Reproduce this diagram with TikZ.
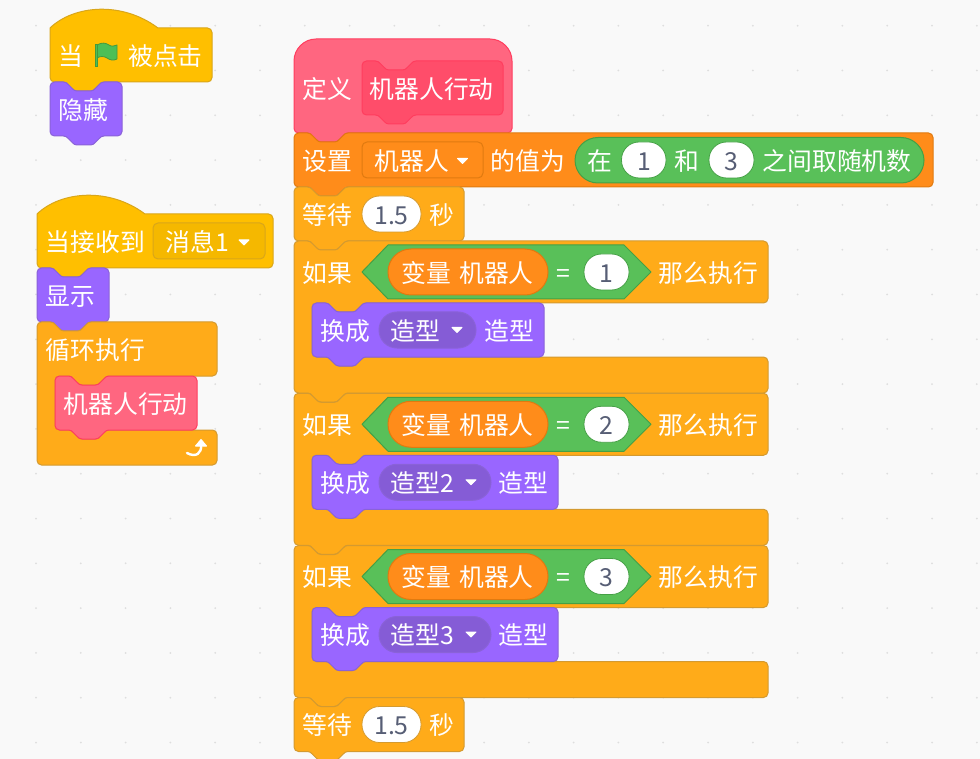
\documentclass[tikz,border=0pt]{standalone}
\usepackage{fontspec}
\newfontfamily\cjk{Noto Sans CJK SC}
\definecolor{bgc}{HTML}{F9F9F9}
\definecolor{dotc}{HTML}{DEDEDE}
\definecolor{evf}{HTML}{FFBF00}\definecolor{evs}{HTML}{D9A61A}\definecolor{evd}{HTML}{F5B800}
\definecolor{ctf}{HTML}{FFAB19}\definecolor{cts}{HTML}{D49A30}
\definecolor{lkf}{HTML}{9966FF}\definecolor{lks}{HTML}{8A62D8}\definecolor{lkd}{HTML}{855CD6}
\definecolor{myf}{HTML}{FF6680}\definecolor{mys}{HTML}{FF3D5E}\definecolor{myd}{HTML}{FF4D6A}
\definecolor{vrf}{HTML}{FF8C1A}\definecolor{vrs}{HTML}{E07A10}
\definecolor{opf}{HTML}{59C059}\definecolor{ops}{HTML}{45A045}
\definecolor{numc}{HTML}{575E75}
\definecolor{flagf}{HTML}{4CBF56}\definecolor{flags}{HTML}{45993D}
\tikzset{
  lbl/.style={anchor=base west,inner sep=0pt,text=white,font=\cjk\fontsize{24.8}{25}\selectfont},
  numlbl/.style={anchor=base,inner sep=0pt,text=numc,font=\cjk\fontsize{24.8}{25}\selectfont},
  evblk/.style={fill=evf,draw=evs,line width=1pt},
  ctblk/.style={fill=ctf,draw=cts,line width=1pt},
  lkblk/.style={fill=lkf,draw=lks,line width=1pt},
  myblk/.style={fill=myf,draw=mys,line width=1pt},
  vrblk/.style={fill=vrf,draw=vrs,line width=1pt},
  oprep/.style={fill=opf,draw=ops,line width=1pt},
  numoval/.style={fill=white,draw=ops,line width=.8pt,rounded corners=17.5pt},
  caretm/.style={fill=white,draw=white,line width=1pt,line join=round},
}
% notch, left to right, x offset #1, y #2
\newcommand\notchlr[2]{.. controls (#1+15.75,#2) and (#1+16.875,#2+1.125) .. (#1+18,#2+2.25) -- (#1+22.5,#2+6.75) .. controls (#1+23.625,#2+7.875) and (#1+24.75,#2+9) .. (#1+27,#2+9) -- (#1+40.5,#2+9) .. controls (#1+42.75,#2+9) and (#1+43.875,#2+7.875) .. (#1+45,#2+6.75) -- (#1+49.5,#2+2.25) .. controls (#1+50.625,#2+1.125) and (#1+51.75,#2) .. (#1+54,#2)}
\newcommand\notchrl[2]{.. controls (#1+51.75,#2) and (#1+50.625,#2+1.125) .. (#1+49.5,#2+2.25) -- (#1+45,#2+6.75) .. controls (#1+43.875,#2+7.875) and (#1+42.75,#2+9) .. (#1+40.5,#2+9) -- (#1+27,#2+9) .. controls (#1+24.75,#2+9) and (#1+23.625,#2+7.875) .. (#1+22.5,#2+6.75) -- (#1+18,#2+2.25) .. controls (#1+16.875,#2+1.125) and (#1+15.75,#2) .. (#1+13.5,#2)}
% corners
\newcommand\cTL[2]{(#1,#2+4.5) .. controls (#1,#2+2) and (#1+2,#2) .. (#1+4.5,#2)}
\newcommand\cTR[2]{-- (#1-4.5,#2) .. controls (#1-2,#2) and (#1,#2+2) .. (#1,#2+4.5)}
\newcommand\cBR[2]{-- (#1,#2-4.5) .. controls (#1,#2-2) and (#1-2,#2) .. (#1-4.5,#2)}
\newcommand\cBL[2]{-- (#1+4.5,#2) .. controls (#1+2,#2) and (#1,#2-2) .. (#1,#2-4.5)}
% right side and bottom with notch, ending closed at left
\newcommand\lowerpart[4]{\cTR{#3}{#2} \cBR{#3}{#4} -- (#1+54,#4) \notchrl{#1}{#4} \cBL{#1}{#4} -- cycle}
\newcommand\lowerflat[4]{\cTR{#3}{#2} \cBR{#3}{#4} \cBL{#1}{#4} -- cycle}
% stack block: style, x0,y0,x1,y1
\newcommand\stackblk[5]{\path[#1] \cTL{#2}{#3} -- (#2+13.5,#3) \notchlr{#2}{#3} \lowerpart{#2}{#3}{#4}{#5};}
% hat block
\newcommand\hatblk[5]{\path[#1] (#2,#3) .. controls (#2+24,#3-23) and (#2+72,#3-27) .. (#2+108,#3) \lowerpart{#2}{#3}{#4}{#5};}
% upper portion of a C block: style-free path text, x0,y0,x1,yh,yc ; arm 18
\newcommand\cupper[5]{\cTL{#1}{#2} -- (#1+13.5,#2) \notchlr{#1}{#2}
  \cTR{#3}{#2} \cBR{#3}{#4}
  -- (#1+72,#4) \notchrl{#1+18}{#4} -- (#1+22.5,#4) .. controls (#1+20,#4) and (#1+18,#4+2) .. (#1+18,#4+4.5)
  -- (#1+18,#5-4.5) .. controls (#1+18,#5-2) and (#1+20,#5) .. (#1+22.5,#5) -- (#1+31.5,#5) \notchlr{#1+18}{#5}}
\newcommand\cblk[7]{\path[#1] \cupper{#2}{#3}{#4}{#5}{#6} \lowerpart{#2}{#6}{#4}{#7};}
\newcommand\cblkflat[7]{\path[#1] \cupper{#2}{#3}{#4}{#5}{#6} \lowerflat{#2}{#6}{#4}{#7};}
\newcommand\lbltxt[4]{\node[lbl] (#1) at (#2-0.5,#3+10.3) {#4};}
\newcommand\numtxt[4]{\node[numlbl] (#1) at (#2,#3+10.3) {#4};}
\newcommand\caretat[2]{\path[caretm] (#1-5,#2-2.5) -- (#1+5,#2-2.5) -- (#1,#2+2.5) -- cycle;}
% if-block: suffix, dy, digit, purple right, pill right, costume text, second-label x, caret x
\newcommand\ifgroup[8]{
  \cblk{ctblk}{294}{241+#2}{768}{303+#2}{357+#2}{393+#2}
  \lbltxt{if#1}{303}{272+#2}{如果}
  \path[oprep,line join=round] (362,272+#2) -- (388,245+#2) -- (624,245+#2) -- (651,272+#2) -- (624,299+#2) -- (388,299+#2) -- cycle;
  \path[vrblk,rounded corners=23pt] (388,249+#2) rectangle (548,295+#2);
  \lbltxt{var#1}{402}{272+#2}{变量 \hspace{2.5pt}机器人}
  \lbltxt{eq#1}{557}{272+#2}{=}
  \path[numoval] (584,254+#2) rectangle (629,290+#2);
  \numtxt{num#1}{606.5}{272+#2}{#3}
  \lbltxt{then#1}{659}{272+#2}{那么执行}
  \stackblk{lkblk}{312}{303+#2}{#4}{357+#2}
  \lbltxt{sw#1}{321}{330+#2}{换成}
  \path[fill=lkd,draw=lks,line width=1pt,rounded corners=18pt] (379,312+#2) rectangle (#5,348+#2);
  \lbltxt{cos#1}{391}{330+#2}{#6}
  \caretat{#8}{330+#2}
  \lbltxt{suf#1}{#7}{330+#2}{造型}
}
\begin{document}
\begin{tikzpicture}[x=1pt,y=-1pt]
\useasboundingbox (0,0) rectangle (980,759);
\fill[bgc] (0,0) rectangle (980,759);
\foreach \i in {0,...,21}{\foreach \j in {0,...,16}{
  \fill[dotc] (36+44.8*\i,25.7+44.8*\j) circle[radius=1pt];}}

% first script
\hatblk{evblk}{50}{28}{212}{82}
\lbltxt{whenA}{59}{55}{当}
\path[fill=flagf,draw=flags,line width=.8pt,line join=round] (97,45) .. controls (102,42) and (106,43) .. (109,45) .. controls (112,47) and (114,46) .. (117,45) -- (117,59) .. controls (113,61) and (110,60) .. (107,58) .. controls (104,56) and (100,56) .. (97,58) -- cycle;
\path[fill=flagf,draw=flags,line width=.6pt] (95.5,44) rectangle (97.5,66.5);
\lbltxt{clicked}{128.5}{55}{被点击}
\stackblk{lkblk}{50}{82}{122}{136}
\lbltxt{hide}{59}{109}{隐藏}

% second script
\hatblk{evblk}{37}{214}{273}{268}
\lbltxt{whenB}{46}{241}{当接收到}
\path[fill=evd,draw=evs,line width=1pt,rounded corners=5pt] (153,223) rectangle (265,259);
\lbltxt{msg}{166}{241}{消息1}
\caretat{244}{242.5}
\stackblk{lkblk}{37}{268}{109}{322}
\lbltxt{show}{46}{295}{显示}
\cblkflat{ctblk}{37}{322}{217}{376}{430}{465}
\lbltxt{forever}{46}{349}{循环执行}
\stackblk{myblk}{55}{376}{197}{430}
\lbltxt{call}{64}{403}{机器人行动}
\path[draw=white,line width=2.4pt,line cap=round] (187,453) .. controls (196,458) and (202,453) .. (201,445);
\path[fill=white,draw=white,line width=1pt,line join=round] (201,439.5) -- (206.5,446) -- (195.5,446) -- cycle;

% definition script
\path[myblk] (294,61) .. controls (294,49) and (304,39) .. (316,39) -- (490,39) .. controls (502,39) and (512,49) .. (512,61) \cBR{512}{133} -- (348,133) \notchrl{294}{133} \cBL{294}{133} -- cycle;
\lbltxt{define}{303}{88}{定义}
\stackblk{fill=myd,draw=mys,line width=1pt}{362}{61}{503}{115}
\lbltxt{defname}{370}{88}{机器人行动}

\stackblk{vrblk}{294}{133}{933}{187}
\lbltxt{setv}{303}{160}{设置}
\path[fill=vrf,draw=vrs,line width=1pt,rounded corners=5pt] (362,142) rectangle (483,178);
\lbltxt{setvar}{375}{160}{机器人}
\caretat{462.5}{161}
\lbltxt{valto}{491}{160}{的值为}
\path[oprep,rounded corners=23pt] (575,137.5) rectangle (924,183);
\lbltxt{rin}{588}{160}{在}
\path[numoval] (621.5,142) rectangle (666,178);
\numtxt{rone}{644}{160}{1}
\lbltxt{rand}{675}{160}{和}
\path[numoval] (709,142) rectangle (754,178);
\numtxt{rthree}{731.5}{160}{3}
\lbltxt{rpick}{763}{160}{之间取随机数}

\stackblk{ctblk}{294}{187}{464}{241}
\lbltxt{waitA}{303}{214}{等待}
\path[fill=white,draw=cts,line width=.8pt,rounded corners=17.5pt] (362,196) rectangle (421,232);
\numtxt{waitAn}{391.5}{214}{1.5}
\lbltxt{waitAs}{430}{214}{秒}

\ifgroup{A}{0}{1}{544}{476}{造型}{485}{457}
\ifgroup{B}{152.25}{2}{558}{491}{造型2}{499}{471}
\ifgroup{C}{304.5}{3}{558}{491}{造型3}{499}{471}

\stackblk{ctblk}{294}{697.5}{464}{751.5}
\lbltxt{waitB}{303}{724.5}{等待}
\path[fill=white,draw=cts,line width=.8pt,rounded corners=17.5pt] (362,706.5) rectangle (421,742.5);
\numtxt{waitBn}{391.5}{724.5}{1.5}
\lbltxt{waitBs}{430}{724.5}{秒}
\end{tikzpicture}
\end{document}
